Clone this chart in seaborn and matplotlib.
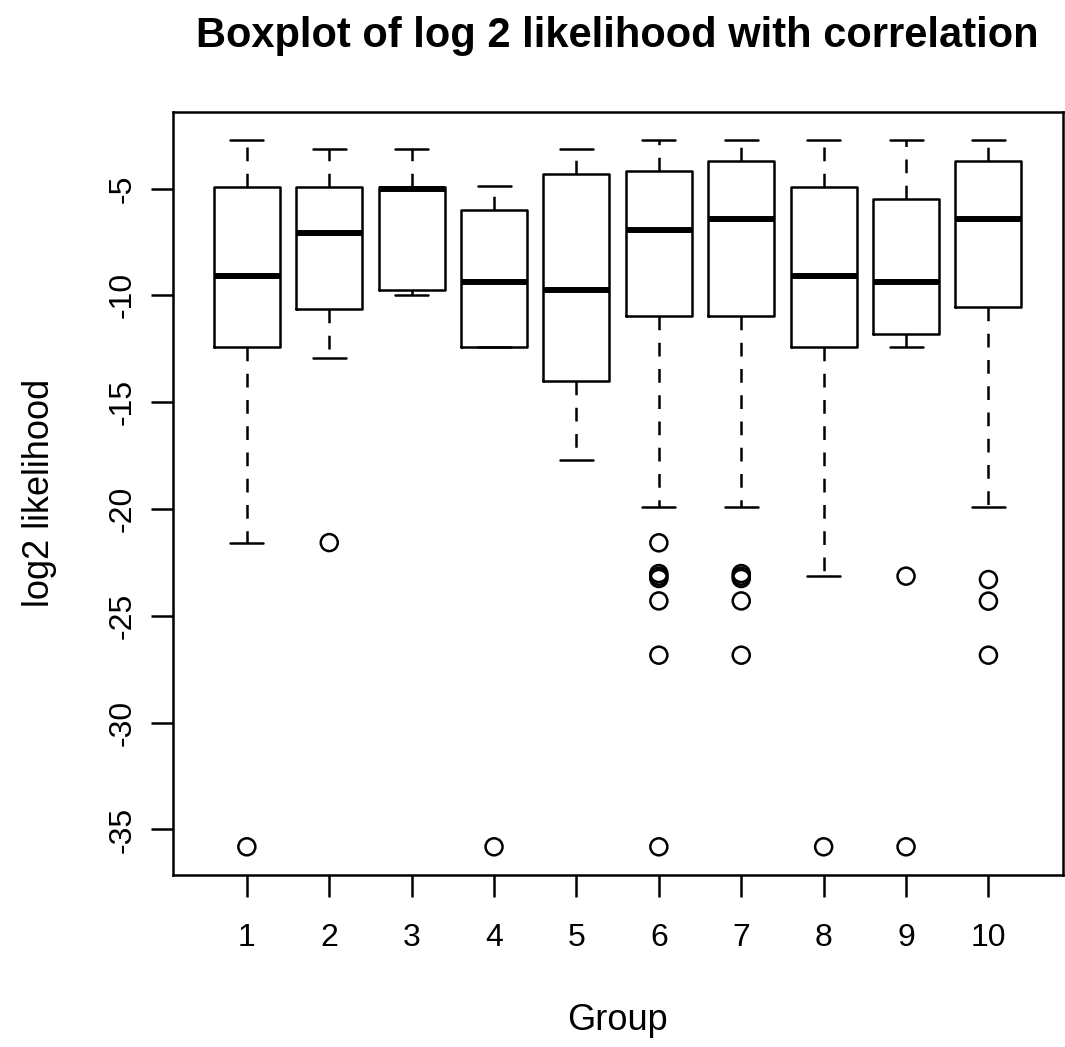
import matplotlib
matplotlib.use("Agg")
import matplotlib.pyplot as plt
import seaborn as sns
import pandas as pd

# ---- data ----
groups = [1, 2, 3, 4, 5, 6, 7, 8, 9, 10]
whisker_high = [-2.71, -3.16, -3.16, -4.89, -3.16, -2.71, -2.71, -2.71, -2.71, -2.71]
q3 = [-4.93, -4.93, -4.93, -6.02, -4.30, -4.16, -3.72, -4.93, -5.47, -3.72]
medians = [-9.10, -7.06, -5.03, -9.37, -9.73, -6.92, -6.40, -9.10, -9.37, -6.40]
q1 = [-12.41, -10.62, -9.73, -12.41, -14.00, -10.94, -10.94, -12.41, -11.79, -10.55]
whisker_low = [-21.57, -12.93, -9.99, -12.41, -17.71, -19.91, -19.91, -23.13, -12.41, -19.91]

outlier_group = [1, 2, 4,
                 6, 6, 6, 6, 6, 6, 6,
                 7, 7, 7, 7, 7,
                 8, 9, 9,
                 10, 10, 10]
outlier_value = [-35.81, -21.57, -35.81,
                 -21.58, -23.02, -23.14, -23.25, -24.30, -26.84, -35.81,
                 -23.02, -23.14, -23.25, -24.30, -26.84,
                 -35.81, -23.14, -35.81,
                 -23.30, -24.31, -26.84]

y_ticks = [-35, -30, -25, -20, -15, -10, -5]
x_tick_labels = [str(g) for g in groups]

title = "Boxplot of log 2 likelihood with correlation"
x_label = "Group"
y_label = "log2 likelihood"

# ---- styling ----
sns.set_style("ticks")
plt.rcParams['font.family'] = ['Liberation Sans', 'DejaVu Sans']
plt.rcParams['text.color'] = 'black'
plt.rcParams['axes.labelcolor'] = 'black'
plt.rcParams['xtick.color'] = 'black'
plt.rcParams['ytick.color'] = 'black'

W, H = 1065, 1047
fig = plt.figure(figsize=(W / 100, H / 100), dpi=100)
left, right, top, bottom = 172.7, 1062.6, 111.7, 875.0
ax = fig.add_axes([left / W, 1 - bottom / H, (right - left) / W, (bottom - top) / H])

LW = 1.8

stats = []
for g, wh, hi, med, lo, wl in zip(groups, whisker_high, q3, medians, q1, whisker_low):
    stats.append(dict(med=med, q1=lo, q3=hi, whislo=wl, whishi=wh, fliers=[], label=str(g)))

ax.bxp(stats, positions=groups, widths=0.8, capwidths=0.4, showfliers=False,
       manage_ticks=False, patch_artist=False,
       boxprops=dict(color='black', linewidth=LW),
       medianprops=dict(color='black', linewidth=4.3, solid_capstyle='butt'),
       whiskerprops=dict(color='black', linewidth=LW, linestyle=(0, (5.5, 5))),
       capprops=dict(color='black', linewidth=LW))

df_out = pd.DataFrame({"group": outlier_group, "value": outlier_value})
sns.scatterplot(data=df_out, x="group", y="value", ax=ax, marker='o', s=150,
                facecolors='none', edgecolor='black', linewidth=LW, zorder=3)

ax.set_xlim(0.1, 10.9)
ax.set_ylim(-37.13, -1.40)
ax.set_xticks(groups)
ax.set_xticklabels(x_tick_labels)
ax.set_yticks(y_ticks)
ax.set_yticklabels([str(v) for v in y_ticks], rotation=90, va='center')

for s in ax.spines.values():
    s.set_linewidth(LW)
    s.set_color('black')
    s.set_visible(True)

ax.tick_params(axis='both', direction='out', length=15.6, width=LW, color='black',
               labelsize=23, labelcolor='black')
ax.tick_params(axis='x', pad=19)
ax.tick_params(axis='y', pad=10)

ax.set_xlabel(x_label, fontsize=26, labelpad=36)
ax.set_ylabel(y_label, fontsize=26, labelpad=36)

fig.text((left + right) / 2 / W, 1 - 47 / H, title, ha='center', va='baseline',
         fontsize=30, fontweight='bold', color='black')

fig.savefig("out.png", dpi=100, facecolor='white')
